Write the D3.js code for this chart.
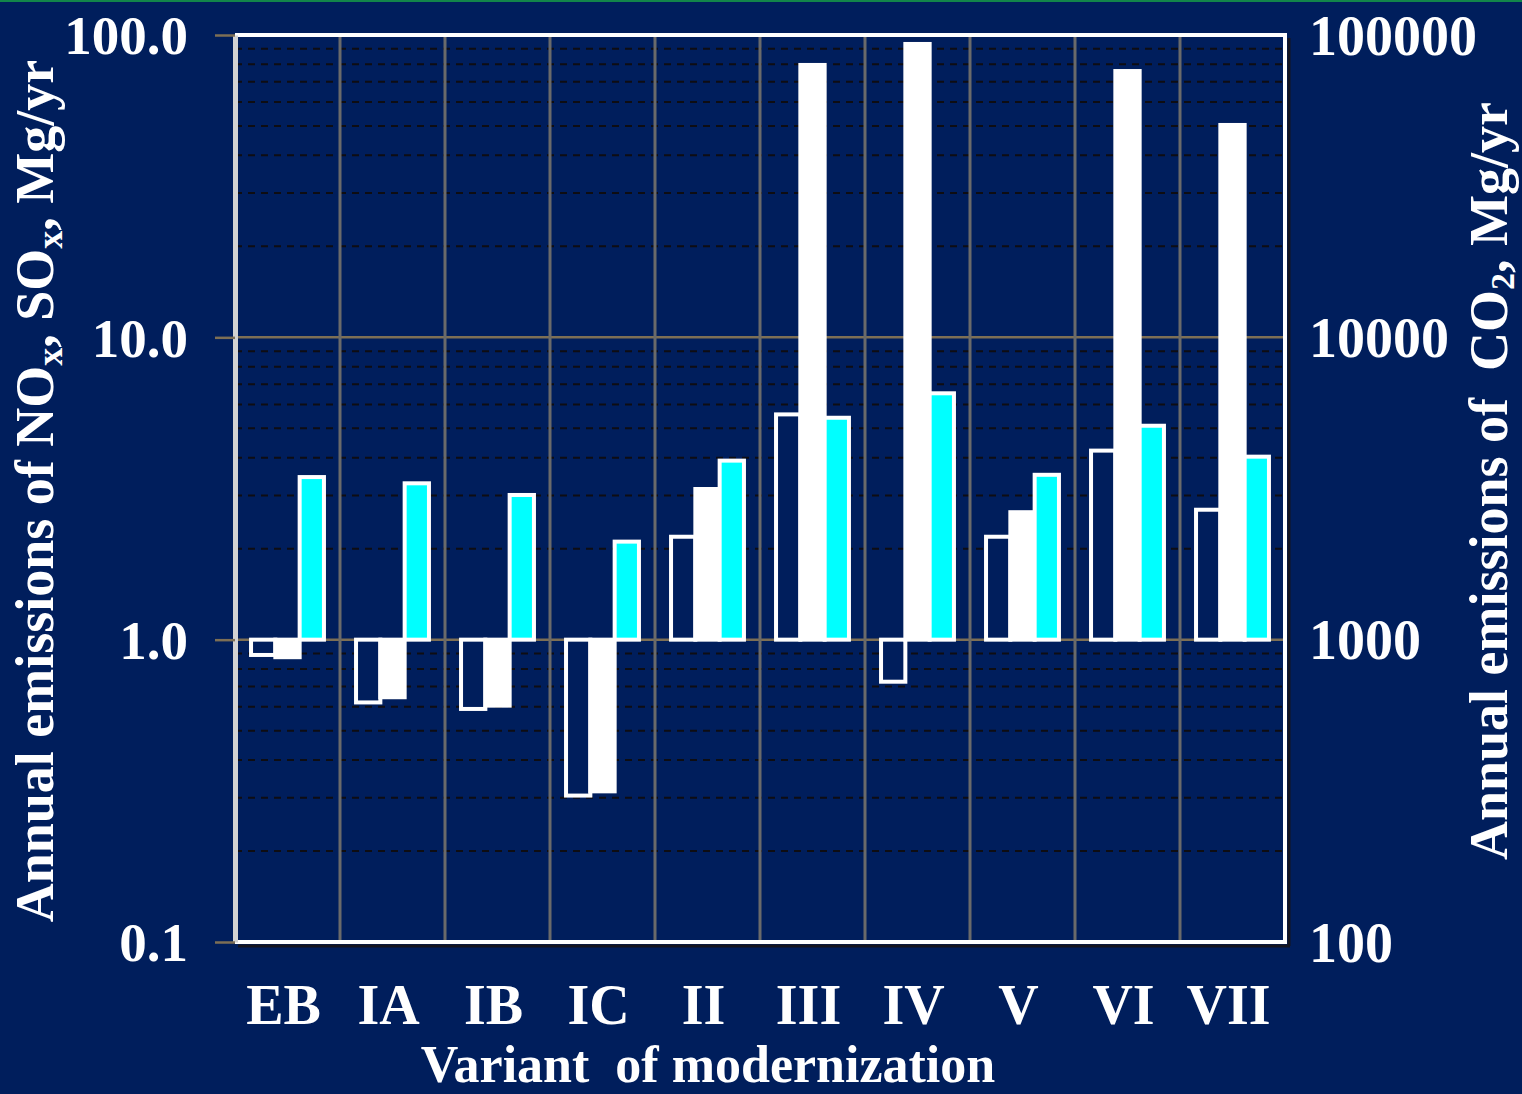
<!DOCTYPE html>
<html>
<head>
<meta charset="utf-8">
<script src="https://cdn.jsdelivr.net/npm/d3@7"></script>
<style>
  html, body { margin: 0; padding: 0; background: #001e5c; }
  svg { display: block; }
  text { font-family: "Liberation Serif", "Times New Roman", serif; font-weight: bold; fill: #ffffff; }
</style>
</head>
<body>
<svg id="chart" width="1522" height="1094"></svg>
<script>
// Variants of modernization
const categories = ["EB", "IA", "IB", "IC", "II", "III", "IV", "V", "VI", "VII"];
const series = ["NOx", "SOx", "CO2"];

// Annual emissions, Mg/yr (NOx and SOx on the left axis, CO2 on the right axis)
const noxValues = [0.89, 0.62, 0.59, 0.305, 2.19, 5.56, 0.726, 2.19, 4.22, 2.69];
const soxValues = [0.875, 0.645, 0.605, 0.315, 3.15, 79.6, 93.4, 2.64, 76.0, 50.4];
const co2Values = [3450, 3290, 3010, 2110, 3910, 5420, 6530, 3510, 5100, 4030];

const leftTicks = [0.1, 1, 10, 100];
const rightTicks = [100, 1000, 10000, 100000];

const svg = d3.select("#chart");
const W = 1522, H = 1094;
const plot = { left: 235, right: 1285, top: 35, bottom: 942 };

svg.append("rect").attr("width", W).attr("height", H).attr("fill", "#001e5c");
svg.append("rect").attr("width", W).attr("height", 2).attr("fill", "#12864a");

const yL = d3.scaleLog().domain([0.1, 100]).range([plot.bottom, plot.top]);
const yR = d3.scaleLog().domain([100, 100000]).range([plot.bottom, plot.top]);
const x0 = d3.scaleBand().domain(categories).range([plot.left, plot.right]).padding(0);
const x1 = d3.scaleBand().domain(series).range([0, x0.bandwidth()]).paddingInner(0).paddingOuter(0.66);

// Minor gridlines (2..9 in every decade), dashed
const minor = [];
[0.1, 1, 10].forEach(d => { for (let k = 2; k <= 9; k++) minor.push(d * k); });
svg.append("g").selectAll("line").data(minor).join("line")
  .attr("x1", plot.left).attr("x2", plot.right)
  .attr("y1", d => yL(d)).attr("y2", d => yL(d))
  .attr("stroke", "#0e0d12").attr("stroke-width", 2).attr("stroke-dasharray", "7,6");

// Major gridlines at each decade
svg.append("g").selectAll("line").data([1, 10]).join("line")
  .attr("x1", plot.left).attr("x2", plot.right)
  .attr("y1", d => yL(d)).attr("y2", d => yL(d))
  .attr("stroke", "#7d6f55").attr("stroke-width", 2.5);

// Vertical separators between variants
svg.append("g").selectAll("line").data(categories.slice(1)).join("line")
  .attr("x1", d => x0(d)).attr("x2", d => x0(d))
  .attr("y1", plot.top).attr("y2", plot.bottom)
  .attr("stroke", "#6a6a6a").attr("stroke-width", 3);

// Bars grow from the 1.0 (left) / 1000 (right) baseline
const rows = categories.map((c, i) => ({
  cat: c,
  bars: [
    { key: "NOx", y: yL(noxValues[i]), base: yL(1), fill: "#001e5c" },
    { key: "SOx", y: yL(soxValues[i]), base: yL(1), fill: "#ffffff" },
    { key: "CO2", y: yR(co2Values[i]), base: yR(1000), fill: "#00ffff" }
  ]
}));

svg.append("g").selectAll("g").data(rows).join("g")
  .attr("transform", d => `translate(${x0(d.cat)},0)`)
  .selectAll("rect").data(d => d.bars).join("rect")
  .attr("x", d => x1(d.key))
  .attr("width", x1.bandwidth())
  .attr("y", d => Math.min(d.y, d.base))
  .attr("height", d => Math.abs(d.y - d.base))
  .attr("fill", d => d.fill)
  .attr("stroke", "#ffffff")
  .attr("stroke-width", 4);

// Frame with a dark drop shadow on the right and bottom
svg.append("line").attr("x1", plot.right + 4).attr("x2", plot.right + 4)
  .attr("y1", plot.top + 3).attr("y2", plot.bottom + 4).attr("stroke", "#15151f").attr("stroke-width", 3);
svg.append("line").attr("x1", plot.left + 3).attr("x2", plot.right + 5)
  .attr("y1", plot.bottom + 4).attr("y2", plot.bottom + 4).attr("stroke", "#15151f").attr("stroke-width", 3);
svg.append("line").attr("x1", plot.left).attr("x2", plot.right + 2)
  .attr("y1", plot.top).attr("y2", plot.top).attr("stroke", "#ffffff").attr("stroke-width", 4);
svg.append("line").attr("x1", plot.right).attr("x2", plot.right)
  .attr("y1", plot.top).attr("y2", plot.bottom).attr("stroke", "#ffffff").attr("stroke-width", 4);
svg.append("line").attr("x1", plot.left).attr("x2", plot.right + 2)
  .attr("y1", plot.bottom).attr("y2", plot.bottom).attr("stroke", "#ffffff").attr("stroke-width", 4);

// Left axis
const axL = svg.append("g").attr("transform", `translate(${plot.left},0)`)
  .call(d3.axisLeft(yL).tickValues(leftTicks).tickFormat(d3.format(".1f")).tickSize(20).tickPadding(27).tickSizeOuter(0));
axL.select(".domain").attr("stroke", "#d2d2d2").attr("stroke-width", 5);
axL.selectAll(".tick line").attr("stroke", "#7d6f55").attr("stroke-width", 2.5);
axL.selectAll(".tick text").attr("font-size", 55).attr("dy", "0.34em")
  .style("font-family", "'Liberation Serif', serif").style("font-weight", "bold").attr("fill", "#ffffff");

// Right axis (CO2)
const axR = svg.append("g").attr("transform", `translate(${plot.right},0)`)
  .call(d3.axisRight(yR).tickValues(rightTicks).tickFormat(d3.format("d")).tickSize(0).tickPadding(24));
axR.select(".domain").remove();
axR.selectAll(".tick text").attr("font-size", 56).attr("dy", "0.34em")
  .style("font-family", "'Liberation Serif', serif").style("font-weight", "bold").attr("fill", "#ffffff");

// Category axis
const axB = svg.append("g").attr("transform", `translate(0,${plot.bottom})`)
  .call(d3.axisBottom(x0).tickSize(0).tickPadding(0));
axB.select(".domain").remove();
axB.selectAll(".tick text").attr("font-size", 56).attr("y", 82).attr("dy", 0)
  .attr("dx", -4)
  .style("font-family", "'Liberation Serif', serif").style("font-weight", "bold").attr("fill", "#ffffff");

// Axis titles
svg.append("text").attr("x", 708).attr("y", 1082).attr("text-anchor", "middle")
  .attr("font-size", 52).attr("xml:space", "preserve").text("Variant  of modernization");

const tl = svg.append("text").attr("transform", "translate(53,491) rotate(-90)")
  .attr("text-anchor", "middle").attr("font-size", 54);
tl.append("tspan").text("Annual emissions of NO");
tl.append("tspan").attr("font-size", 36).attr("dy", 9).text("x");
tl.append("tspan").attr("dy", -9).text(", SO");
tl.append("tspan").attr("font-size", 36).attr("dy", 9).text("x");
tl.append("tspan").attr("dy", -9).text(", Mg/yr");

const tr = svg.append("text").attr("transform", "translate(1507,481) rotate(-90)")
  .attr("text-anchor", "middle").attr("font-size", 54).attr("xml:space", "preserve");
tr.append("tspan").text("Annual emissions of  CO");
tr.append("tspan").attr("font-size", 34).attr("dy", 7).text("2");
tr.append("tspan").attr("dy", -7).text(", Mg/yr");
</script>
</body>
</html>
